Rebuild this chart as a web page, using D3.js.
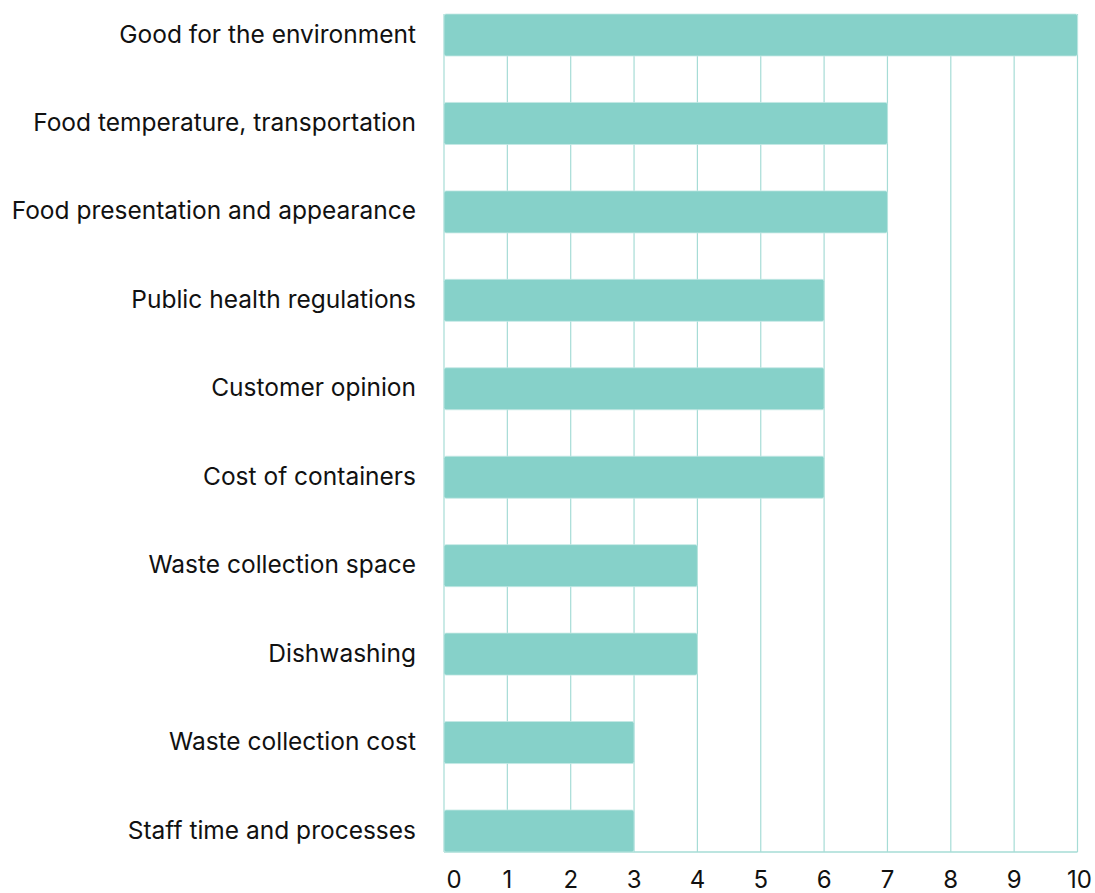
<!DOCTYPE html>
<html>
<head>
<meta charset="utf-8">
<script src="https://cdn.jsdelivr.net/npm/d3@7"></script>
<style>
  body { margin: 0; background: #fff; }
  svg text { font-family: Inter, "Noto Sans", sans-serif; fill: #111; }
</style>
</head>
<body>
<svg id="chart" width="1095" height="893"></svg>
<script>
var categories = [
    "Good for the environment",
    "Food temperature, transportation",
    "Food presentation and appearance",
    "Public health regulations",
    "Customer opinion",
    "Cost of containers",
    "Waste collection space",
    "Dishwashing",
    "Waste collection cost",
    "Staff time and processes"
];
var values = [10, 7, 7, 6, 6, 6, 4, 4, 3, 3];
var tickValues = [0, 1, 2, 3, 4, 5, 6, 7, 8, 9, 10];

var svg = d3.select("#chart"),
    margin = { top: 14, right: 18, bottom: 41, left: 444 },
    width = +svg.attr("width") - margin.left - margin.right,
    height = +svg.attr("height") - margin.top - margin.bottom,
    g = svg.append("g").attr("transform", "translate(" + margin.left + "," + margin.top + ")");

var x = d3.scaleLinear()
    .domain([0, 10])
    .range([0, 633.5]);

var y = d3.scaleBand()
    .domain(categories)
    .range([0, height])
    .paddingInner(0.525)
    .paddingOuter(0);

var gridColor = "#a6dcd6";
var barColor = "#86d1c9";

// vertical grid lines
g.append("g")
    .selectAll("line")
    .data(tickValues)
    .enter().append("line")
    .attr("x1", function (d) { return x(d); })
    .attr("x2", function (d) { return x(d); })
    .attr("y1", 0)
    .attr("y2", height)
    .attr("stroke", gridColor)
    .attr("stroke-width", 1.2);

// baseline
g.append("line")
    .attr("x1", 0)
    .attr("x2", x(10))
    .attr("y1", height)
    .attr("y2", height)
    .attr("stroke", gridColor)
    .attr("stroke-width", 1.5);

// bars
g.append("g")
    .selectAll("rect")
    .data(values)
    .enter().append("rect")
    .attr("x", 0)
    .attr("y", function (d, i) { return y(categories[i]); })
    .attr("width", function (d) { return x(d); })
    .attr("height", y.bandwidth())
    .attr("rx", 2)
    .attr("fill", barColor)
    .attr("stroke", "#c4e9e5")
    .attr("stroke-width", 0.8);

// category labels
g.append("g")
    .selectAll("text")
    .data(categories)
    .enter().append("text")
    .attr("x", -28)
    .attr("y", function (d) { return y(d) + y.bandwidth() / 2 - 1; })
    .attr("dy", "0.35em")
    .attr("text-anchor", "end")
    .attr("font-size", 24.5)
    .text(function (d) { return d; });

// x tick labels
g.append("g")
    .selectAll("text")
    .data(tickValues)
    .enter().append("text")
    .attr("x", function (d) { return x(d) + (d === 0 ? 10 : (d === 10 ? 2 : 0)); })
    .attr("y", height + 28)
    .attr("dy", "0.35em")
    .attr("text-anchor", "middle")
    .attr("font-size", 24)
    .text(function (d) { return d; });
</script>
</body>
</html>
